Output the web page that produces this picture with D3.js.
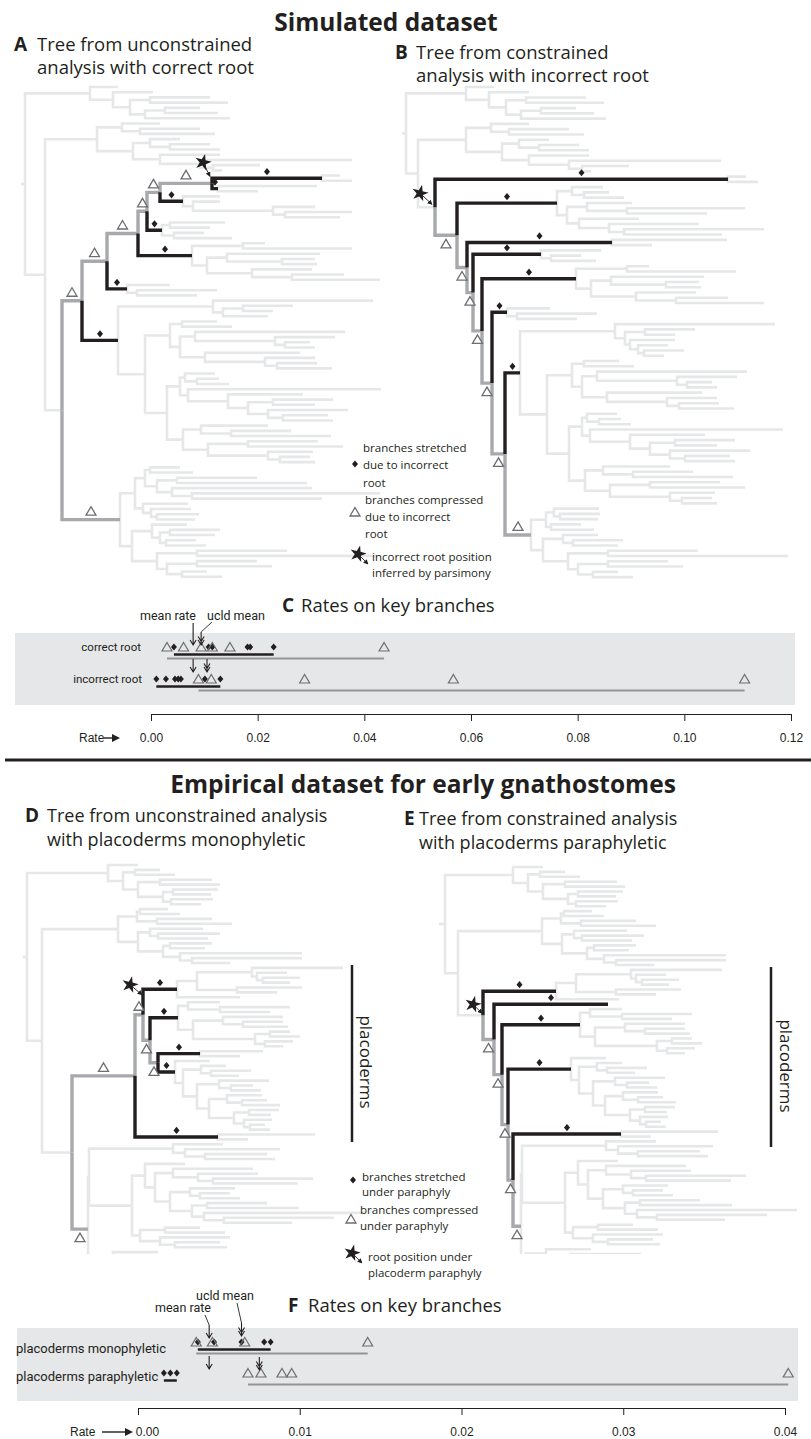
<!DOCTYPE html>
<html>
<head>
<meta charset="utf-8">
<script src="https://cdn.jsdelivr.net/npm/d3@7/dist/d3.min.js"></script>
<style>
  body { margin: 0; background: #fff; }
</style>
</head>
<body>
<svg id="fig" width="811" height="1439"></svg>
<script>
// ---------- tree data: Newick strings, branch lengths in plot units ----------
// labels: s = stretched branch (black), c = compressed branch (grey, triangle above),
//         cb = compressed with triangle below, r = root position marked by star
const simTop = "(:28,(:40,((:60,:78):20,((:35,:53):20,:85):15):17):23)";
const simMid = "((:38,(:60,:75):18):25,((:30,(:40,:50):20):17,(:60,(:152,(:47,:9):13):40):27):36)";
const simW7 = "(:18,:30)";
const simW6 = "(:99,:40)";
const simW6b = "(:115,:40)";
const simK5 = "(:37,(:27,(:42,(:67,:55):12):80):10)";
const simK5b = "((:31,(:25,:40):12):15,((:45,(:118,:80):40):20,(:60,(:90,(:140,:98):15):30):12):10)";
const simK4 = "((:55,:40):8,(:30,:58):12)";
const simK4b = "(:60,(:30,:45):10)";
const simK3 = "((:22,:109):51,((:93,(:33,:35):55):20,(:60,(:52,:88):40):45):15)";
const simK2 = "(:43,(:80,:60):10)";
const simK1a = "((:35,:50):12,((:150,(:60,(:25,:30):10):80):15,(:95,(:50,(:40,:55):12):60):25):10)";
const simK1b = "(((:30,(:22,:32):12):5,(:193,(:75,((:60,:42):25,(:80,(:45,:50):15):20):20):40):8):13,((:67,(:60,:100):30):18,((:70,:95):40,(:45,(:30,:35):12):60):25):16)";
const simK1 = `((:160,((:50,:30):20,:45):10):95,(${simK1a}:25,${simK1b}:22):27)`;
const simK1B = `((:160,((:50,:30):20,(:45,(:30,(:40,:20):6):8):5):10):95,(${simK1a}:25,${simK1b}:22):27)`;
const simB1 = "((((:30,:43):5,((:80,:130):20,(:140,(:188,:130):20):15):12):10,(:45,(:40,(:42,:38):6):8):8):15,((:35,((:50,:45):10,(:30,:40):6):8):20,((:90,:180):40,((:60,:75):30,(:25,:40):15):10):25):12)";
const simB1b = "(((:45,(:40,:38):6):8,(:30,:43):5):15,((:35,(:50,:45):10):20,((:90,:180):40,((:60,:75):30,(:25,:40):15):10):25):12)";

const treeA = `(${simTop}:65,(${simMid}:52,(((((((${simW7}s:110,${simW6}s:6)cr:52,${simK5}s:23)c:13,${simK4}s:15)c:9,${simK3}s:54)c:31,${simK2}s:20)c:25,${simK1}s:36)c:20,${simB1}c:58):17):20):4`;
const treeB = `(${simTop}:60,(${simMid}:48,(${simW7}s:293,(${simK5b}s:100,(${simW6b}s:145,(${simK4b}s:68,(${simK3}s:94,(${simK2}s:15,(${simK1B}s:15,${simB1b}c:26)cb:13)cb:10)cb:9)cb:6)cb:10)cb:22)r:17):12):4`;

const empTop = "(:30,((:25,:40):12,((:52,:60):22,((:45,:38):10,(:42,:30):8):25):15):15)";
const empMid = "(((:28,:40):3,(:55,:75):20):19,((:53,(:62,:50):8):12,((:42,:35):7,(:122,(:110,:38):12):17):25):20)";
const empD1 = "(((:91,(:30,(:37,:27):6):5):55,(:65,:40):40):20,:63)";
const empD2 = "((:32,(:70,:50):32):10,((:60,(:40,:45):20):30,((:20,:30):15,(:28,:18):10):62):15)";
const empD3 = "(:63,:40)";
const empD4 = "(:35,((:25,(:40,:28):10):18,((:50,(:22,:30):12):22,((:35,(:25,:38):15):18,((:30,:22):15,(:28,(:15,:20):6):10):25):12):14):8)";
const empD5 = "(:97,:30)";
const empBotTop = "(:50,(:95,(:62,:70):20):12)";
const empBotMid = "((:40,((:80,(:60,(:100,:85):15):25):18,((:45,(:30,:40):10):20,((:60,:92):15,(:160,(:110,:68):20):12):22):15):10):13,((:35,:60):25,(:70,(:45,:52):15):20):8)";
const empBotLow = "((:45,(:70,(:50,:65):15):25):20,(((:60,:90):30,((:40,:75):20,((:55,:35):25,(:30,(:44,:20):10):12):15):15):10,((:50,(:40,:60):12):20,((:35,:45):10,(:70,:30):15):18):12):18)";
const empBot = `((${empBotTop}:84,${empBotMid}:43):1,${empBotLow}:5)`;

const treeD = `(${empTop}:81,(${empMid}:76,(((${empD1}s:34,(${empD2}s:28,(${empD3}s:42,${empD4}s:17)cb:8)cb:7)cr:8,${empD5}s:83)c:63,${empBot}cb:16):30):15):4`;
const treeE = `(${empTop}:68,(${empMid}:84,(${empD1}s:73,(s:114,(${empD2}s:78,(${empD4}s:63,(${empD5}s:108,${empBot}cb:8)cb:5)cb:6)cb:8)cb:11)r:25):13):6`;

// ---------- rate data ----------
const ticksC = [0, 0.02, 0.04, 0.06, 0.08, 0.10, 0.12];
const correctStretched = [0.0043, 0.0108, 0.0115, 0.0181, 0.0186, 0.0230];
const correctCompressed = [0.0030, 0.0061, 0.0094, 0.0115, 0.0148, 0.0437];
const correctMean = 0.0079, correctUcld = 0.0094;
const incorrectStretched = [0.0010, 0.0028, 0.0045, 0.0051, 0.0056, 0.0101, 0.0130];
const incorrectCompressed = [0.0089, 0.0113, 0.0288, 0.0567, 0.1113];
const incorrectMean = 0.0079, incorrectUcld = 0.0105;

const ticksF = [0, 0.01, 0.02, 0.03, 0.04];
const monoStretched = [0.0037, 0.0047, 0.0064, 0.0078, 0.0082];
const monoCompressed = [0.0036, 0.0046, 0.0066, 0.0142];
const monoMean = 0.0044, monoUcld = 0.0064;
const paraStretched = [0.0016, 0.0020, 0.0024];
const paraCompressed = [0.0068, 0.0076, 0.0089, 0.0095, 0.0402];
const paraMean = 0.0044, paraUcld = 0.0075;

// ---------- drawing ----------
const INK = '#231f20', LIGHT = '#e6e7e8', GRAY = '#a7a9ac', TRI = '#6d6e71', BAND = '#e6e7e8', RLINE = '#939598';
const SANS = '"Open Sans", sans-serif';

const svg = d3.select('#fig');
const defs = svg.append('defs');
defs.append('marker')
  .attr('id', 'tip').attr('viewBox', '0 0 8 8').attr('refX', 7).attr('refY', 4)
  .attr('markerUnits', 'userSpaceOnUse').attr('markerWidth', 5).attr('markerHeight', 5)
  .attr('orient', 'auto')
  .append('path').attr('d', 'M0,0L8,4L0,8Z').attr('fill', INK);

const diamond = 'M0,-3.6L3,0L0,3.6L-3,0Z';
const triangle = 'M0,-4.5L5,4L-5,4Z';
const starPath = d3.symbol().type(d3.symbolStar).size(85)();

function text(x, y, str, size, opts = {}) {
  return svg.append('text').attr('x', x).attr('y', y).text(str)
    .attr('font-family', opts.family || SANS)
    .attr('font-size', size)
    .attr('font-weight', opts.weight || 'normal')
    .attr('text-anchor', opts.anchor || 'start')
    .attr('fill', INK);
}

function starArrow(sx, sy, tx, ty) {
  svg.append('line')
    .attr('x1', sx).attr('y1', sy).attr('x2', tx).attr('y2', ty)
    .attr('stroke', INK).attr('stroke-width', 0.9).attr('marker-end', 'url(#tip)');
  svg.append('path').attr('d', starPath)
    .attr('transform', `translate(${sx},${sy}) rotate(14)`).attr('fill', INK);
}

function parseNewick(str) {
  let i = 0;
  function node() {
    const n = { children: [] };
    if (str[i] === '(') {
      i++;
      n.children.push(node());
      while (str[i] === ',') { i++; n.children.push(node()); }
      i++; // closing paren
    }
    let name = '';
    while (i < str.length && !',():;'.includes(str[i])) name += str[i++];
    n.name = name.trim();
    n.length = 0;
    if (str[i] === ':') {
      i++;
      let num = '';
      while (i < str.length && !',();'.includes(str[i])) num += str[i++];
      n.length = +num;
    }
    return n;
  }
  return node();
}

function drawTree(newick, cfg) {
  const g = svg.append('g');
  if (cfg.clipY) {
    defs.append('clipPath').attr('id', cfg.id)
      .append('rect').attr('x', 0).attr('y', 0).attr('width', 811).attr('height', cfg.clipY);
    g.attr('clip-path', `url(#${cfg.id})`);
  }
  const root = d3.hierarchy(parseNewick(newick), d => d.children.length ? d.children : null);
  root.eachBefore(d => { d.t = (d.parent ? d.parent.t : 0) + d.data.length; });

  const x = d3.scaleLinear().domain([0, 100]).range([cfg.x0, cfg.x0 + 100]);
  const y = d3.scaleLinear().domain([0, 1]).range([cfg.yTop, cfg.yTop + cfg.step]);

  root.leaves().forEach((d, i) => { d.py = y(i); });
  root.eachAfter(d => {
    d.px = x(d.t);
    if (d.children) d.py = (d.children[0].py + d.children[d.children.length - 1].py) / 2;
  });

  const kind = d => /s/.test(d.data.name) ? 'black' : /c/.test(d.data.name) ? 'gray' : 'light';
  const edges = root.descendants().filter(d => d.parent);
  const style = { light: [LIGHT, 2.6], gray: [GRAY, 3.4], black: [INK, 3.4] };

  g.append('path')
    .attr('d', `M${x(0)},${root.py}H${root.px}`)
    .attr('stroke', LIGHT).attr('stroke-width', 2.6);

  ['light', 'gray', 'black'].forEach(k => {
    g.append('g').selectAll('path')
      .data(edges.filter(d => kind(d) === k))
      .join('path')
      .attr('d', d => `M${d.parent.px},${d.parent.py}V${d.py}H${d.px}`)
      .attr('fill', 'none')
      .attr('stroke', style[k][0])
      .attr('stroke-width', style[k][1])
      .attr('stroke-linejoin', 'miter');
  });

  // diamonds on stretched branches
  g.append('g').selectAll('path')
    .data(edges.filter(d => kind(d) === 'black'))
    .join('path')
    .attr('d', diamond)
    .attr('transform', d => `translate(${(d.parent.px + d.px) / 2},${d.py - 6.5})`)
    .attr('fill', INK);

  // triangles on compressed branches
  g.append('g').selectAll('path')
    .data(edges.filter(d => kind(d) === 'gray'))
    .join('path')
    .attr('d', triangle)
    .attr('transform', d => `translate(${(d.parent.px + d.px) / 2},${d.py + (/b/.test(d.data.name) ? 8.5 : -8.5)})`)
    .attr('fill', '#fff').attr('stroke', TRI).attr('stroke-width', 1.3);

  // star for the root position
  root.descendants().filter(d => /r/.test(d.data.name)).forEach(d => {
    starArrow(d.px + cfg.star[0], d.py + cfg.star[1], d.px + cfg.star[2], d.py + cfg.star[3]);
  });
}

function rateArrow(x, y1, y2, double) {
  let p = `M${x},${y1}V${y2}M${x - 3},${y2 - 5}L${x},${y2}L${x + 3},${y2 - 5}`;
  if (double) p += `M${x - 3},${y2 - 8.5}L${x},${y2 - 3.5}L${x + 3},${y2 - 8.5}`;
  svg.append('path').attr('d', p).attr('fill', 'none').attr('stroke', INK).attr('stroke-width', 1.1);
}

function rateLabelArrow(x1, x2, y) {
  svg.append('path')
    .attr('d', `M${x1},${y}H${x2 - 6}`)
    .attr('stroke', INK).attr('stroke-width', 1.4);
  svg.append('path')
    .attr('d', `M${x2 - 8},${y - 4}L${x2},${y}L${x2 - 8},${y + 4}Z`)
    .attr('fill', INK);
}

function drawRates(cfg) {
  const x = d3.scaleLinear().domain(cfg.domain).range(cfg.range);
  svg.append('rect')
    .attr('x', cfg.band[0]).attr('y', cfg.band[1]).attr('width', cfg.band[2]).attr('height', cfg.band[3])
    .attr('fill', BAND);

  cfg.rows.forEach(r => {
    const ce = d3.extent(r.compressed), se = d3.extent(r.stretched);
    svg.append('line')
      .attr('x1', x(ce[0])).attr('x2', x(ce[1])).attr('y1', r.y + 11.5).attr('y2', r.y + 11.5)
      .attr('stroke', RLINE).attr('stroke-width', 2);
    svg.append('line')
      .attr('x1', x(se[0])).attr('x2', x(se[1])).attr('y1', r.y + 7.5).attr('y2', r.y + 7.5)
      .attr('stroke', INK).attr('stroke-width', 2.5);
    svg.append('g').selectAll('path').data(r.stretched).join('path')
      .attr('d', diamond).attr('transform', d => `translate(${x(d)},${r.y})`).attr('fill', INK);
    svg.append('g').selectAll('path').data(r.compressed).join('path')
      .attr('d', triangle).attr('transform', d => `translate(${x(d)},${r.y})`)
      .attr('fill', 'none').attr('stroke', TRI).attr('stroke-width', 1.2);
    text(r.labelX, r.y + r.labelDy, r.label, cfg.labelSize, { family: 'Roboto, sans-serif', anchor: cfg.labelAnchor });
    rateArrow(x(r.mean), r.meanArrow[0], r.meanArrow[1], false);
    rateArrow(x(r.ucld), r.ucldArrow[0], r.ucldArrow[1], true);
  });

  const axis = d3.axisBottom(x).tickValues(cfg.ticks).tickFormat(d3.format('.2f'))
    .tickSize(7).tickSizeOuter(0).tickPadding(12.5);
  const ag = svg.append('g').attr('transform', `translate(0,${cfg.axisY})`).call(axis);
  ag.select('.domain').attr('stroke', INK);
  ag.selectAll('.tick line').attr('stroke', INK);
  ag.selectAll('.tick text')
    .attr('font-family', '"Liberation Sans", Arial, sans-serif')
    .attr('font-size', 12).attr('fill', INK);
  ag.selectAll('.tick text').filter(d => d === 0).attr('dx', cfg.zeroShift);

  text(cfg.rateX, cfg.axisY + 28, 'Rate', 12, { family: '"Liberation Sans", Arial, sans-serif' });
  rateLabelArrow(cfg.arrowX[0], cfg.arrowX[1], cfg.axisY + 24);
  return x;
}

// ---------- titles ----------
text(386, 31, 'Simulated dataset', 24.5, { weight: 'bold', anchor: 'middle' });
text(14, 51, 'A', 19, { weight: 'bold' });
text(37, 51, 'Tree from unconstrained', 18.5);
text(37, 74, 'analysis with correct root', 18.5);
text(395, 59, 'B', 19, { weight: 'bold' });
text(416, 59, 'Tree from constrained', 18.5);
text(416, 82, 'analysis with incorrect root', 18.5);

// ---------- simulated trees ----------
drawTree(treeA, { x0: 21, yTop: 87, step: 5.21, star: [-9, -21, -2, -7] });
drawTree(treeB, { x0: 402, yTop: 87, step: 5.27, star: [-15, -14, -3, -3] });

// legend (simulated)
svg.append('path').attr('d', diamond).attr('transform', 'translate(355,464)').attr('fill', INK);
text(363, 452, 'branches stretched', 11.5);
text(363, 469, 'due to incorrect', 11.5);
text(363, 487, 'root', 11.5);
svg.append('path').attr('d', triangle).attr('transform', 'translate(355,512)')
  .attr('fill', '#fff').attr('stroke', TRI).attr('stroke-width', 1.3);
text(365, 504, 'branches compressed', 11.5);
text(365, 521, 'due to incorrect', 11.5);
text(365, 538, 'root', 11.5);
starArrow(358, 554, 368, 564);
text(372, 561, 'incorrect root position', 11.5);
text(372, 577, 'inferred by parsimony', 11.5);

// ---------- panel C ----------
text(282, 612, 'C', 19, { weight: 'bold' });
text(301, 612, 'Rates on key branches', 18.5);
const xC = drawRates({
  domain: [0, 0.12], range: [151, 791], ticks: ticksC, axisY: 714, zeroShift: 0,
  band: [15, 633, 780, 72], labelSize: 11.5, labelAnchor: 'end',
  rateX: 79, arrowX: [104, 120],
  rows: [
    { label: 'correct root', labelX: 141, labelDy: 4, y: 647,
      stretched: correctStretched, compressed: correctCompressed,
      mean: correctMean, ucld: correctUcld, meanArrow: [623, 645], ucldArrow: [632, 645] },
    { label: 'incorrect root', labelX: 142, labelDy: 4, y: 679,
      stretched: incorrectStretched, compressed: incorrectCompressed,
      mean: incorrectMean, ucld: incorrectUcld, meanArrow: [659, 672], ucldArrow: [659, 672] }
  ]
});
text(140, 620, 'mean rate', 12.5, { family: 'Roboto, sans-serif' });
text(207, 620, 'ucld mean', 12.5, { family: 'Roboto, sans-serif' });
svg.append('path').attr('d', `M212,622L${xC(correctUcld)},632`).attr('stroke', INK).attr('stroke-width', 0.9);

// separator
svg.append('line').attr('x1', 5).attr('x2', 811).attr('y1', 760).attr('y2', 760)
  .attr('stroke', INK).attr('stroke-width', 3);

// ---------- empirical titles ----------
text(423, 793, 'Empirical dataset for early gnathostomes', 24.5, { weight: 'bold', anchor: 'middle' });
text(25, 822, 'D', 19, { weight: 'bold' });
text(47, 822, 'Tree from unconstrained analysis', 18);
text(47, 846, 'with placoderms monophyletic', 18);
text(404, 825, 'E', 19, { weight: 'bold' });
text(419, 825, 'Tree from constrained analysis', 18);
text(419, 849, 'with placoderms paraphyletic', 18);

// ---------- empirical trees ----------
drawTree(treeD, { id: 'clipD', clipY: 1254, x0: 23, yTop: 865, step: 4.9, star: [-13, -30, -1, -20] });
drawTree(treeE, { id: 'clipE', clipY: 1254, x0: 439, yTop: 867, step: 4.9, star: [-10, -11, -1, -2] });

// placoderm bars
[[352, 965, 1142, 366, 1062], [771, 967, 1147, 786, 1066]].forEach(b => {
  svg.append('line').attr('x1', b[0]).attr('x2', b[0]).attr('y1', b[1]).attr('y2', b[2])
    .attr('stroke', INK).attr('stroke-width', 2.5);
  svg.append('text').attr('transform', `translate(${b[3]},${b[4]}) rotate(90)`)
    .attr('text-anchor', 'middle').attr('dy', '0.35em')
    .attr('font-family', SANS).attr('font-size', 17).attr('fill', INK).text('placoderms');
});

// legend (empirical)
svg.append('path').attr('d', diamond).attr('transform', 'translate(353,1180)').attr('fill', INK);
text(362, 1181, 'branches stretched', 11.5);
text(362, 1196, 'under paraphyly', 11.5);
svg.append('path').attr('d', triangle).attr('transform', 'translate(351,1219)')
  .attr('fill', '#fff').attr('stroke', TRI).attr('stroke-width', 1.3);
text(360, 1214, 'branches compressed', 11.5);
text(360, 1230, 'under paraphyly', 11.5);
starArrow(352, 1253, 362, 1263);
text(368, 1261, 'root position under', 11.5);
text(368, 1277, 'placoderm paraphyly', 11.5);

// ---------- panel F ----------
text(288, 1312, 'F', 19, { weight: 'bold' });
text(308, 1312, 'Rates on key branches', 18.5);
const xF = drawRates({
  domain: [0, 0.04], range: [138, 785], ticks: ticksF, axisY: 1408, zeroShift: 9,
  band: [17, 1328, 781, 73], labelSize: 13, labelAnchor: 'start',
  rateX: 70, arrowX: [102, 133],
  rows: [
    { label: 'placoderms monophyletic', labelX: 16, labelDy: 11, y: 1342,
      stretched: monoStretched, compressed: monoCompressed,
      mean: monoMean, ucld: monoUcld, meanArrow: [1325, 1338], ucldArrow: [1323, 1336] },
    { label: 'placoderms paraphyletic', labelX: 16, labelDy: 8, y: 1373,
      stretched: paraStretched, compressed: paraCompressed,
      mean: paraMean, ucld: paraUcld, meanArrow: [1356, 1369], ucldArrow: [1357, 1370] }
  ]
});
text(155, 1312, 'mean rate', 12.5, { family: 'Roboto, sans-serif' });
text(196, 1300, 'ucld mean', 12.5, { family: 'Roboto, sans-serif' });
svg.append('path').attr('d', `M205,1315L${xF(monoMean)},1325`).attr('stroke', INK).attr('stroke-width', 0.9);
svg.append('path').attr('d', `M237,1303L${xF(monoUcld)},1323`).attr('stroke', INK).attr('stroke-width', 0.9);
</script>
</body>
</html>
